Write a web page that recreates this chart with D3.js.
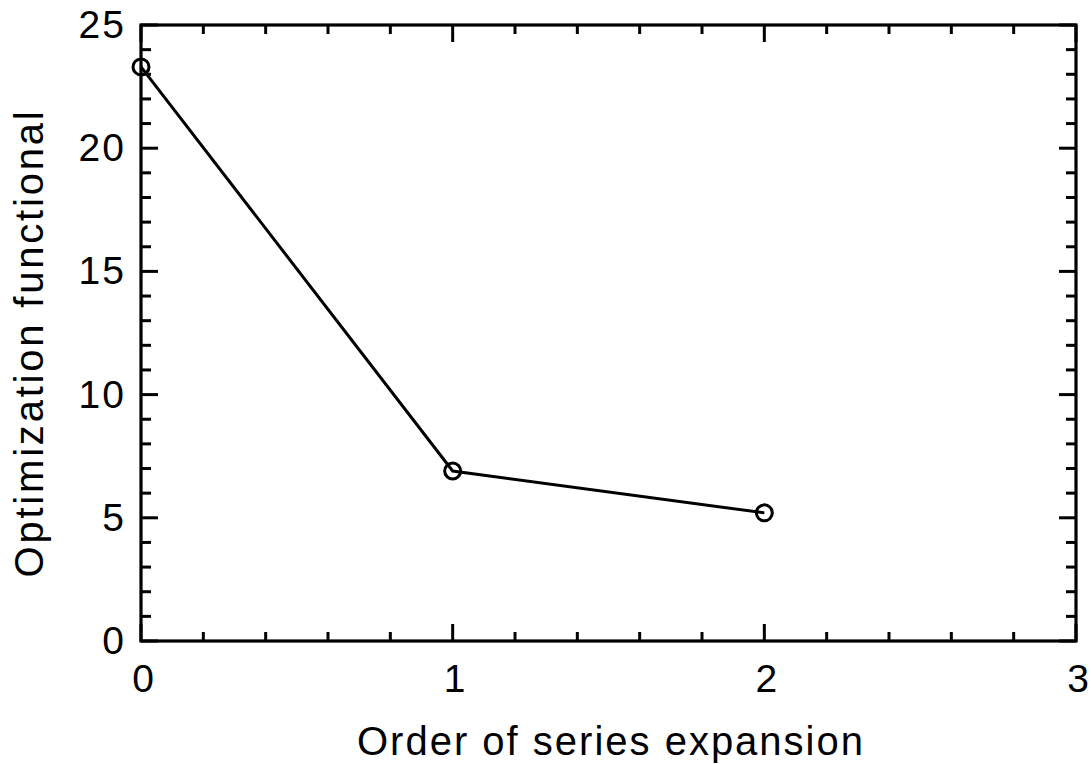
<!DOCTYPE html>
<html>
<head>
<meta charset="utf-8">
<script src="https://cdn.jsdelivr.net/npm/d3@7"></script>
<style>
  body { margin: 0; background: #fff; }
  text { font-family: "Liberation Sans", Arial, sans-serif; fill: #000; }
</style>
</head>
<body>
<svg id="chart" width="1091" height="764"></svg>
<script>
const orders = [0, 1, 2]
const functional = [23.3, 6.9, 5.2]
const xTicks = [0, 1, 2, 3]
const yTicks = [0, 5, 10, 15, 20, 25]

const margin = { left: 141, right: 15, top: 25, bottom: 123 }
const W = 1091, H = 764
const svg = d3.select('#chart')

const x = d3.scaleLinear().domain([0, 3]).range([margin.left, W - margin.right])
const y = d3.scaleLinear().domain([0, 25]).range([H - margin.bottom, margin.top])

const g = svg.append('g')
const sw = 3

// minor / major ticks
const xMinor = d3.range(0, 3.001, 0.2)
const yMinor = d3.range(0, 25.001, 1)

xMinor.forEach(v => {
  const major = xTicks.some(t => Math.abs(t - v) < 1e-6)
  const len = major ? 17 : 9
  g.append('line').attr('x1', x(v)).attr('x2', x(v))
    .attr('y1', y(0)).attr('y2', y(0) - len).attr('stroke', '#000').attr('stroke-width', sw)
  g.append('line').attr('x1', x(v)).attr('x2', x(v))
    .attr('y1', y(25)).attr('y2', y(25) + len).attr('stroke', '#000').attr('stroke-width', sw)
})
yMinor.forEach(v => {
  const major = yTicks.includes(Math.round(v))
  const len = major ? 17 : 10
  g.append('line').attr('x1', x(0)).attr('x2', x(0) + len)
    .attr('y1', y(v)).attr('y2', y(v)).attr('stroke', '#000').attr('stroke-width', sw)
  g.append('line').attr('x1', x(3)).attr('x2', x(3) - len)
    .attr('y1', y(v)).attr('y2', y(v)).attr('stroke', '#000').attr('stroke-width', sw)
})

// frame
g.append('rect').attr('x', x(0)).attr('y', y(25))
  .attr('width', x(3) - x(0)).attr('height', y(0) - y(25))
  .attr('fill', 'none').attr('stroke', '#000').attr('stroke-width', 3.2)

// tick labels
g.selectAll('.xl').data(xTicks).join('text')
  .attr('x', d => x(d) + 2).attr('y', y(0) + 51)
  .attr('text-anchor', 'middle').attr('font-size', 39).text(d => d)
g.selectAll('.yl').data(yTicks).join('text')
  .attr('x', x(0) - 15).attr('y', d => y(d) + 13)
  .attr('text-anchor', 'end').attr('font-size', 39).attr('letter-spacing', 2).text(d => d)

// axis titles
g.append('text').attr('x', 611).attr('y', 755)
  .attr('text-anchor', 'middle').attr('font-size', 40).attr('letter-spacing', 2)
  .text('Order of series expansion')
g.append('text').attr('transform', `translate(43, 343) rotate(-90)`)
  .attr('text-anchor', 'middle').attr('font-size', 40).attr('letter-spacing', 2.8)
  .text('Optimization functional')

// line and markers
const pts = orders.map((o, i) => [o, functional[i]])
g.append('path').datum(pts)
  .attr('d', d3.line().x(d => x(d[0])).y(d => y(d[1])))
  .attr('fill', 'none').attr('stroke', '#000').attr('stroke-width', sw)
g.selectAll('.pt').data(pts).join('circle')
  .attr('cx', d => x(d[0])).attr('cy', d => y(d[1])).attr('r', 8)
  .attr('fill', 'none').attr('stroke', '#000').attr('stroke-width', sw)
</script>
</body>
</html>
